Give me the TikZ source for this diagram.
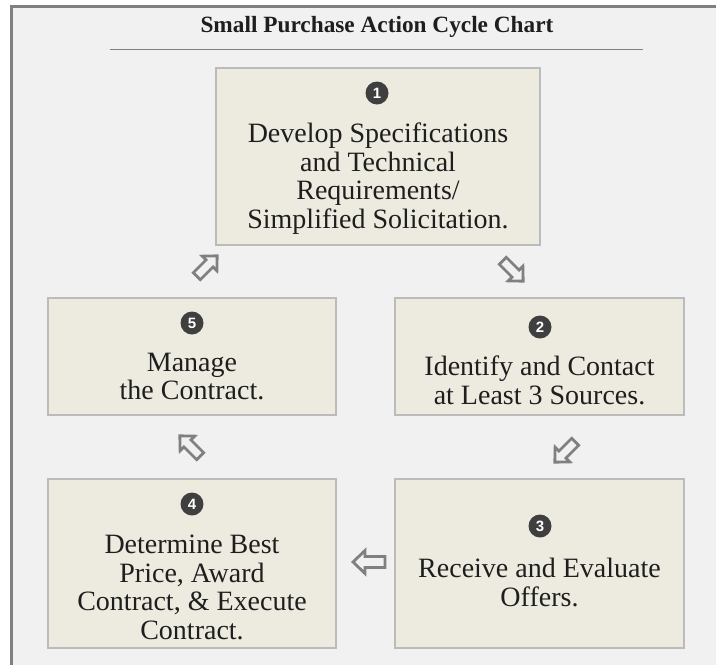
\documentclass[tikz,border=0pt]{standalone}
\usepackage{fontspec}
\setmainfont{Liberation Serif}
\newfontfamily\numfont{Liberation Sans}
\definecolor{pagebg}{HTML}{F1F1F1}
\definecolor{framegray}{HTML}{808080}
\definecolor{boxfill}{HTML}{EDEBE0}
\definecolor{boxline}{HTML}{BBBBBB}
\definecolor{txt}{HTML}{1E1E1E}
\definecolor{numbg}{HTML}{3F3F3F}
\tikzset{
  stepbox/.style={draw=boxline, line width=1.6pt, fill=boxfill, rectangle, inner sep=0pt},
  steptext/.style={text=txt, align=center, font=\fontsize{28}{28.7}\selectfont, inner sep=0pt},
  stepnum/.style={circle, fill=numbg, text=white, minimum size=23pt, inner sep=0pt, font=\numfont\bfseries\fontsize{15}{15}\selectfont},
  arrowline/.style={draw=framegray, line width=2.8pt, fill=pagebg, line join=miter},
  hollowarrow/.pic={\path[arrowline] (-16,0) -- (-4,11.5) -- (-4,5.5) -- (16,5.5) -- (16,-5.5) -- (-4,-5.5) -- (-4,-11.5) -- cycle;}
}
\begin{document}
\begin{tikzpicture}[x=1pt,y=-1pt]
\useasboundingbox (0,0) rectangle (716,665);
\fill[white] (-5,-5) rectangle (721,670);
\fill[framegray] (10,5) rectangle (721,670);
\fill[pagebg] (13,8) rectangle (721,670);
% title
\node[text=txt, font=\bfseries\fontsize{23.3}{24}\selectfont, inner sep=0pt] (title) at (377,27) {Small Purchase Action Cycle Chart};
\coordinate (ruleL) at (110,49);
\coordinate (ruleR) at (643,49);
\draw[framegray, line width=1pt] (ruleL) -- (ruleR);
% boxes
\node[stepbox, minimum width=324pt, minimum height=177pt] (b1) at (378,156.5) {};
\node[stepbox, minimum width=288pt, minimum height=117pt] (b5) at (192,356.5) {};
\node[stepbox, minimum width=289pt, minimum height=117pt] (b2) at (539.5,356.5) {};
\node[stepbox, minimum width=288pt, minimum height=169pt] (b4) at (192,563.5) {};
\node[stepbox, minimum width=289pt, minimum height=169pt] (b3) at (539.5,563.5) {};
% numbers
\node[stepnum] (n1) at (377,93) {1};
\node[stepnum] (n5) at (192,323) {5};
\node[stepnum] (n2) at (540,327) {2};
\node[stepnum] (n4) at (192,504) {4};
\node[stepnum] (n3) at (540,526) {3};
% texts
\node[steptext] (t1) at (378,178.5) {Develop Specifications\\and Technical\\Requirements/\\Simplified Solicitation.};
\node[steptext] (t5) at (192,376.5) {Manage\\the Contract.};
\node[steptext] (t2) at (539.5,380.5) {Identify and Contact\\at Least 3 Sources.};
\node[steptext] (t4) at (192,587.5) {Determine Best\\Price, Award\\Contract, \& Execute\\Contract.};
\node[steptext] (t3) at (539.5,582.5) {Receive and Evaluate\\Offers.};
% arrows
\pic[rotate=-135, scale=0.9] at (207,266) {hollowarrow};
\pic[rotate=135, scale=0.9] at (513,271) {hollowarrow};
\pic[rotate=45, scale=0.9] at (565,452) {hollowarrow};
\pic[rotate=-45, scale=0.9] at (190,446) {hollowarrow};
\pic at (369,562) {hollowarrow};
\end{tikzpicture}
\end{document}
